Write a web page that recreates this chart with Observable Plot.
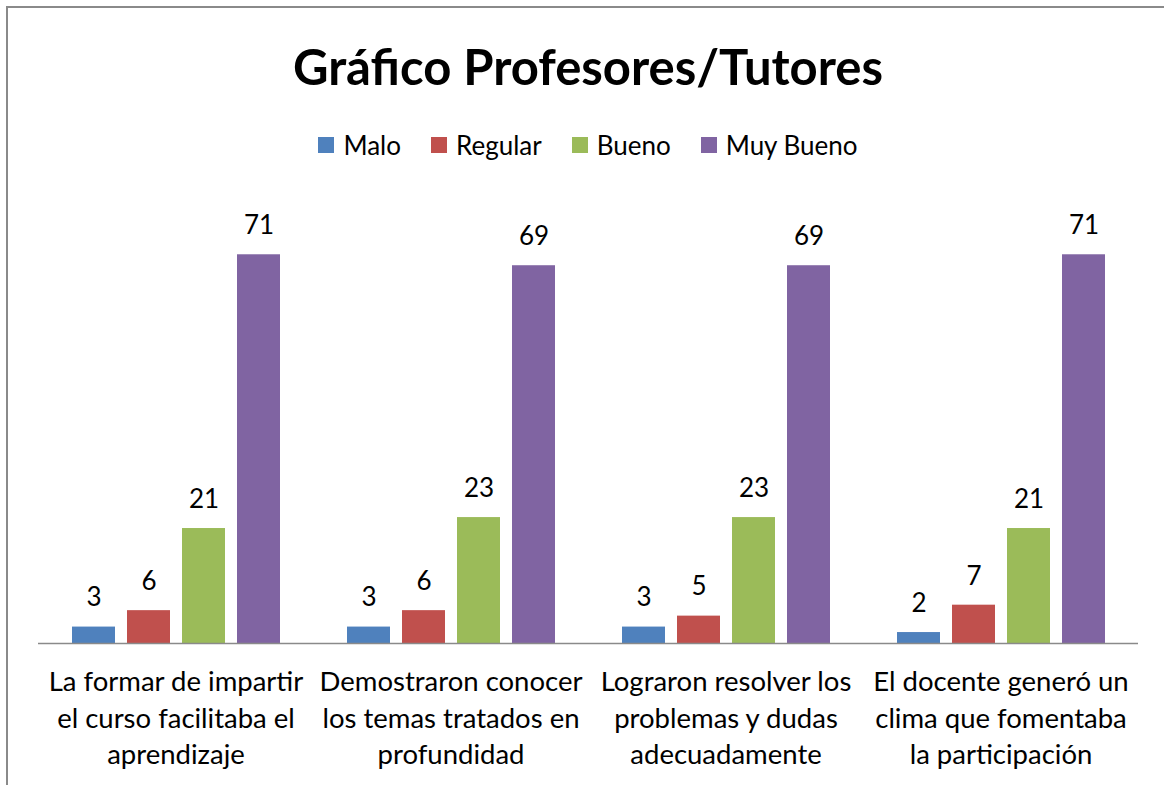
<!DOCTYPE html>
<html>
<head>
<meta charset="utf-8">
<script src="https://cdn.jsdelivr.net/npm/d3@7"></script>
<script src="https://cdn.jsdelivr.net/npm/@observablehq/plot@0.6"></script>
<style>
  html, body { margin: 0; padding: 0; background: #fff; }
  body { width: 1164px; height: 785px; overflow: hidden; position: relative; font-family: Lato, "Open Sans", sans-serif; }
  #frame { position: absolute; left: 6px; top: 6px; width: 1200px; height: 800px; border-left: 2px solid #8a8a8a; border-top: 2px solid #8a8a8a; box-sizing: border-box; }
  #title { position: relative; height: 110px; text-align: center; font-weight: bold; font-size: 49px; line-height: 1; padding-top: 42px; box-sizing: border-box; color: #000; padding-left: 12px; }
  #legend { position: relative; height: 60px; display: flex; justify-content: center; align-items: flex-start; padding-top: 19px; box-sizing: border-box; font-size: 26px; color: #000; padding-left: 12px; }
  .item { display: flex; align-items: center; margin: 0 15px; }
  .sw { width: 16px; height: 16px; margin-right: 9px; }
  #chart { position: relative; }
</style>
</head>
<body>
<div id="frame"></div>
<div id="title">Gráfico Profesores/Tutores</div>
<div id="legend"></div>
<div id="chart"></div>
<script>
const categories = [
  "La formar de impartir\nel curso facilitaba el\naprendizaje",
  "Demostraron conocer\nlos temas tratados en\nprofundidad",
  "Lograron resolver los\nproblemas y dudas\nadecuadamente",
  "El docente generó un\nclima que fomentaba\nla participación"
];
const series = ["Malo", "Regular", "Bueno", "Muy Bueno"];
const colors = ["#4f81bd", "#c0504d", "#9bbb59", "#8064a2"];
const malo = [3, 3, 3, 2];
const regular = [6, 6, 5, 7];
const bueno = [21, 23, 23, 21];
const muyBueno = [71, 69, 69, 71];

const valuesBySeries = [malo, regular, bueno, muyBueno];
const data = [];
categories.forEach((c, i) => {
  series.forEach((s, j) => {
    data.push({category: c, series: s, value: valuesBySeries[j][i]});
  });
});

// legend
const legend = document.getElementById("legend");
series.forEach((s, j) => {
  const it = document.createElement("div");
  it.className = "item";
  const sw = document.createElement("span");
  sw.className = "sw";
  sw.style.background = colors[j];
  const tx = document.createElement("span");
  tx.textContent = s;
  it.appendChild(sw);
  it.appendChild(tx);
  legend.appendChild(it);
});

const chart = Plot.plot({
  width: 1164,
  height: 615,
  marginLeft: 38,
  marginRight: 26,
  marginTop: 35,
  marginBottom: 142,
  style: {fontFamily: "Lato, 'Open Sans', sans-serif", background: "transparent"},
  fx: {domain: categories, padding: 0, axis: null},
  x: {domain: series, paddingInner: 0.22, paddingOuter: 0.6, axis: null},
  y: {domain: [0, 80], axis: null},
  color: {domain: series, range: colors},
  marks: [
    Plot.barY(data, {fx: "category", x: "series", y: "value", fill: "series"}),
    Plot.text(data, {fx: "category", x: "series", y: "value", text: d => String(d.value), dy: -29, fontSize: 26, fill: "#000"}),
    Plot.ruleY([0], {stroke: "#8a8a8a", strokeWidth: 1.5}),
    Plot.text(categories, {fx: d => d, text: d => d, frameAnchor: "bottom", lineAnchor: "top", dy: 22, fontSize: 27.5, lineHeight: 1.32, fill: "#000"})
  ]
});
document.getElementById("chart").appendChild(chart);
</script>
</body>
</html>
